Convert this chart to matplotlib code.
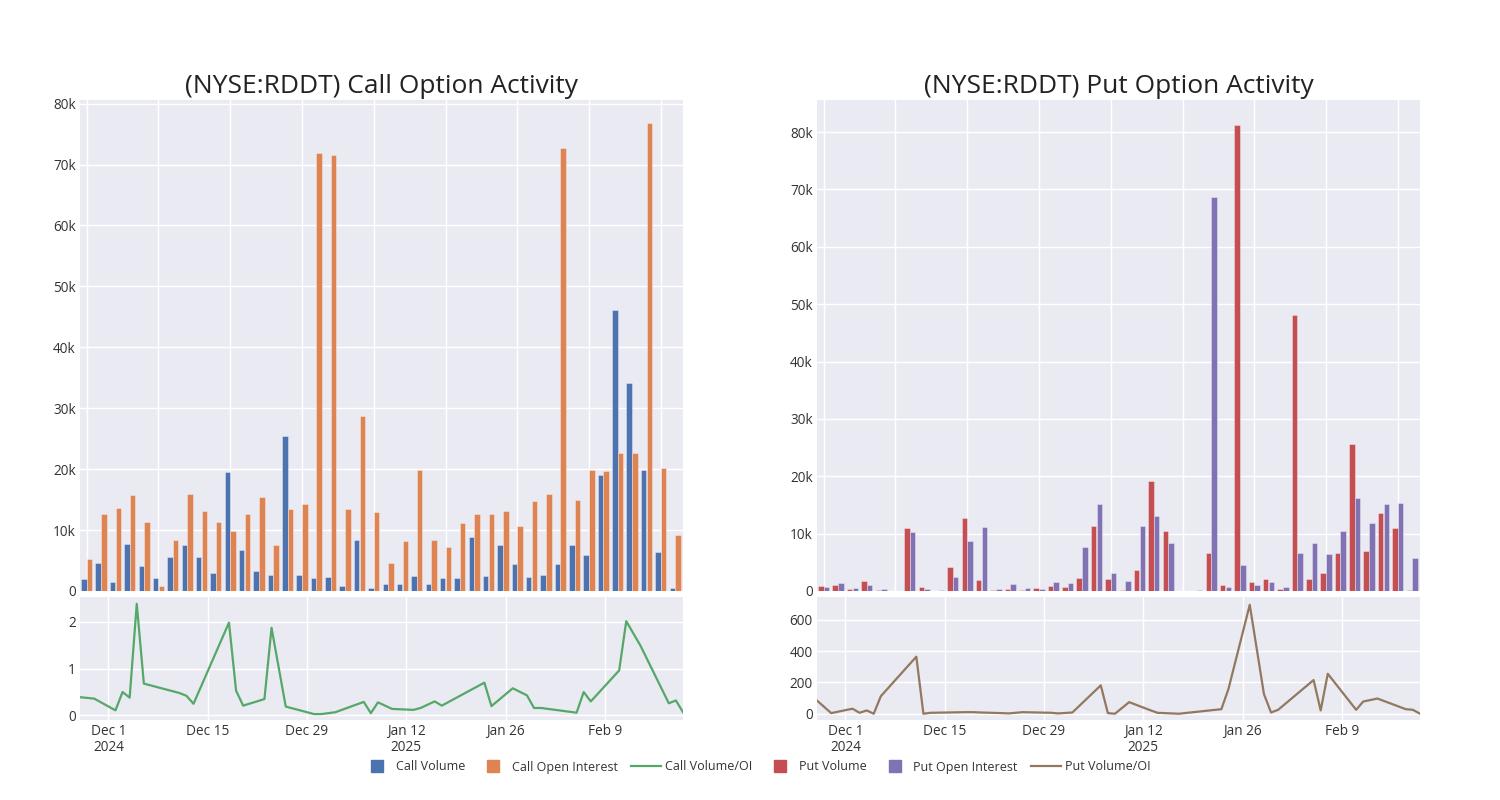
import numpy as np
import pandas as pd
import matplotlib
matplotlib.use('Agg')
import matplotlib.pyplot as plt
from matplotlib.lines import Line2D

# trading days with data
dates = ['2024-11-27', '2024-11-29', '2024-12-02', '2024-12-03', '2024-12-04', '2024-12-05',
         '2024-12-06', '2024-12-11', '2024-12-12', '2024-12-13', '2024-12-18', '2024-12-19',
         '2024-12-20', '2024-12-23', '2024-12-24', '2024-12-26', '2024-12-30', '2024-12-31',
         '2025-01-02', '2025-01-06', '2025-01-07', '2025-01-08', '2025-01-10', '2025-01-13',
         '2025-01-14', '2025-01-16', '2025-01-17', '2025-01-23', '2025-01-24', '2025-01-27',
         '2025-01-29', '2025-01-30', '2025-01-31', '2025-02-05', '2025-02-06', '2025-02-07',
         '2025-02-11', '2025-02-12', '2025-02-14', '2025-02-18', '2025-02-19', '2025-02-20']

call_volume = [2000, 4600, 1500, 7700, 4100, 2200, 5600, 7600, 5500, 2900, 19600, 6800,
               3300, 2600, 25400, 2700, 2100, 2300, 900, 8400, 500, 1200, 1100, 2400,
               1200, 2100, 2200, 8800, 2400, 7600, 4500, 2300, 2600, 4500, 7600, 5900,
               19100, 46200, 34100, 19900, 6400, 500]
call_oi = [5300, 12600, 13600, 15700, 11300, 900, 8300, 15900, 13100, 11300, 9800, 12600,
           15500, 7500, 13500, 14200, 71900, 71500, 13500, 28800, 12900, 4600, 8200, 19900,
           8400, 7300, 11100, 12600, 12700, 13200, 10700, 14800, 15900, 72800, 15000, 19800,
           19700, 22700, 22600, 76800, 20200, 9200]
call_ratio = [0.39, 0.36, 0.11, 0.50, 0.38, 2.38, 0.68, 0.48, 0.42, 0.25, 1.98, 0.53,
              0.21, 0.35, 1.87, 0.19, 0.03, 0.03, 0.07, 0.29, 0.05, 0.28, 0.14, 0.12,
              0.16, 0.30, 0.21, 0.70, 0.20, 0.58, 0.43, 0.16, 0.16, 0.06, 0.50, 0.30,
              0.96, 2.01, 1.49, 0.26, 0.32, 0.07]

put_volume = [870, 1000, 400, 1750, 100, 50, 11000, 750, 0, 4100, 12700, 1900,
              200, 350, 200, 450, 800, 650, 2300, 11300, 2100, 200, 3700, 19100,
              10400, 50, 0, 6700, 1050, 81300, 1500, 2150, 300, 48100, 2100, 3100,
              6700, 25600, 7000, 13600, 11000, 100]
put_oi = [760, 1450, 500, 1000, 350, 50, 10200, 350, 100, 2500, 8800, 11200,
          300, 1200, 500, 300, 1600, 1450, 7700, 15100, 3200, 1750, 11300, 13100,
          8300, 50, 100, 68700, 650, 4600, 1050, 1600, 700, 6700, 8400, 6500,
          10500, 16200, 11900, 15200, 15400, 5700]
put_ratio = [84, 4, 32, 6, 21, 0, 112, 364, 0, 6, 10, 10,
             8, 4, 2, 10, 6, 2, 8, 181, 4, 0, 74, 22,
             6, 2, 0, 29, 158, 695, 126, 8, 25, 215, 21, 255,
             25, 78, 97, 29, 25, 0]

colors = {'cv': '#4C72B0', 'coi': '#DD8452', 'cr': '#55A868',
          'pv': '#C44E52', 'poi': '#8172B3', 'pr': '#937860'}
BG = '#EAEAF2'
TXT = '#333333'

plt.rcParams['font.family'] = ['Open Sans', 'DejaVu Sans']

d = pd.to_datetime(dates)
idx = np.arange(len(dates))


def style(ax):
    ax.set_facecolor(BG)
    for s in ax.spines.values():
        s.set_visible(False)
    ax.grid(True, color='white', linewidth=1.0)
    ax.set_axisbelow(True)
    ax.tick_params(length=0, labelsize=9.8, colors=TXT, pad=3)


def kfmt(v, pos):
    return '0' if v == 0 else '%dk' % (v / 1000)


def bars(ax, v1, v2, c1, c2, top, title):
    style(ax)
    ax.bar(idx - 0.2, v1, width=0.38, color=c1, edgecolor=(1, 1, 1, 0.5), linewidth=0.5)
    ax.bar(idx + 0.2, v2, width=0.38, color=c2, edgecolor=(1, 1, 1, 0.5), linewidth=0.5)
    ax.set_xlim(-0.47, len(idx) - 0.45)
    ax.set_ylim(0, top)
    ax.set_xticks(np.arange(0, len(idx), 5))
    ax.set_xticklabels([])
    ax.set_yticks(np.arange(0, 80001, 10000))
    ax.yaxis.set_major_formatter(plt.FuncFormatter(kfmt))
    ax.set_title(title, fontsize=19, color='#222222', pad=5)


date_ticks = pd.date_range('2024-12-01', periods=6, freq='14D')
date_labels = []
for i, t in enumerate(date_ticks):
    lab = '%s %d' % (t.strftime('%b'), t.day)
    if i == 0 or t.year != date_ticks[i - 1].year:
        lab += '\n%d' % t.year
    date_labels.append(lab)


def ratio(ax, vals, color, ylim, yticks):
    style(ax)
    ax.plot(d, vals, color=color, linewidth=1.6)
    ax.set_xlim(d[0], d[-1])
    ax.set_ylim(*ylim)
    ax.set_yticks(yticks)
    ax.set_xticks(date_ticks)
    ax.set_xticklabels(date_labels, linespacing=1.07)


fig = plt.figure(figsize=(15, 8), dpi=100)
W = 603 / 1500
ax1 = fig.add_axes([80 / 1500, 1 - 591 / 800, W, 491 / 800])
ax2 = fig.add_axes([80 / 1500, 1 - 720 / 800, W, 123 / 800])
ax3 = fig.add_axes([817 / 1500, 1 - 591 / 800, W, 491 / 800])
ax4 = fig.add_axes([817 / 1500, 1 - 720 / 800, W, 123 / 800])

bars(ax1, call_volume, call_oi, colors['cv'], colors['coi'], 80600, '(NYSE:RDDT) Call Option Activity')
bars(ax3, put_volume, put_oi, colors['pv'], colors['poi'], 85600, '(NYSE:RDDT) Put Option Activity')
ratio(ax2, call_ratio, colors['cr'], (-0.096, 2.526), [0, 1, 2])
ratio(ax4, put_ratio, colors['pr'], (-40, 745), [0, 200, 400, 600])

handles = [
    Line2D([], [], color=colors['cv'], marker='s', linestyle='none', markersize=9),
    Line2D([], [], color=colors['coi'], marker='s', linestyle='none', markersize=9),
    Line2D([], [], color=colors['cr'], linewidth=1.6),
    Line2D([], [], color=colors['pv'], marker='s', linestyle='none', markersize=9),
    Line2D([], [], color=colors['poi'], marker='s', linestyle='none', markersize=9),
    Line2D([], [], color=colors['pr'], linewidth=1.6),
]
labels = ['Call Volume', 'Call Open Interest', 'Call Volume/OI',
          'Put Volume', 'Put Open Interest', 'Put Volume/OI']
leg = fig.legend(handles, labels, loc='center', bbox_to_anchor=(0.504, 1 - 767 / 800), ncol=6,
                 frameon=False, fontsize=9, handlelength=2.4, handletextpad=0.3, columnspacing=1.05)
for t in leg.get_texts():
    t.set_color(TXT)

fig.savefig('out.png', dpi=100)
